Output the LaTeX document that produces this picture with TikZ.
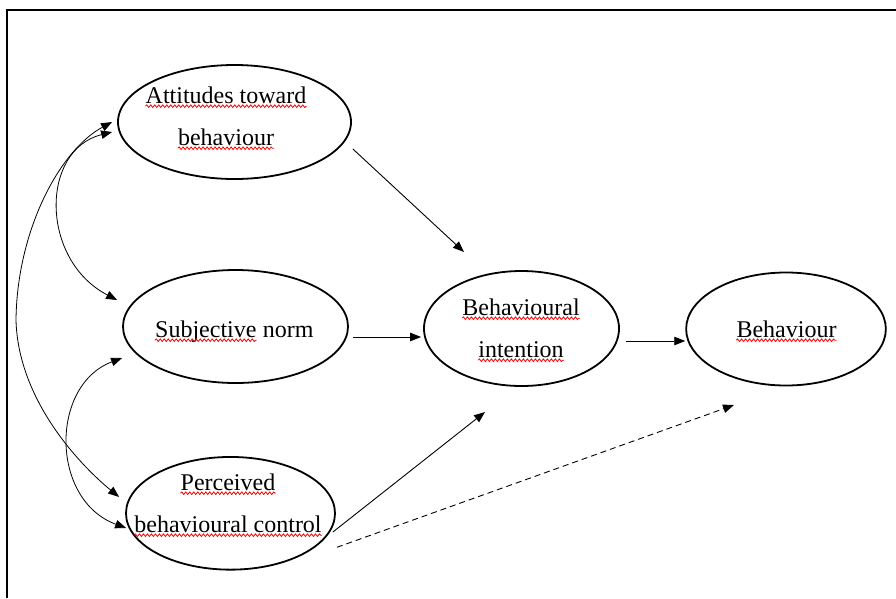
\documentclass[tikz,border=0pt]{standalone}
\usepackage{fontspec}
\setmainfont{Liberation Serif}
\usetikzlibrary{shapes.geometric,arrows.meta,calc,decorations.pathmorphing}
\begin{document}
\begin{tikzpicture}[x=1pt,y=-1pt,
  ell/.style={draw, ellipse, line width=1.8pt, inner sep=0pt},
  txt/.style={inner sep=0pt, anchor=base, font=\fontsize{24}{28}\selectfont},
  arr/.style={line width=0.9pt, -{Triangle[length=11pt,width=8.5pt]}},
  barr/.style={line width=0.8pt, {Triangle[length=11pt,width=8.5pt]}-{Triangle[length=11pt,width=8.5pt]}},
  wav/.style={draw=red, line width=0.8pt, decorate, decoration={snake, amplitude=1.3pt, segment length=4pt}}]
\useasboundingbox (0,0) rectangle (896,598);
\draw[line width=2pt] (6.5,598) -- (6.5,10) -- (896,10);

% ellipses
\node[ell, minimum width=233pt, minimum height=114pt] (att) at (234.5,122) {};
\node[ell, minimum width=225pt, minimum height=113pt] (sn) at (235.5,326.5) {};
\node[ell, minimum width=209pt, minimum height=112.7pt] (pbc) at (230.5,513.3) {};
\node[ell, minimum width=195pt, minimum height=115pt] (int) at (521.5,328.5) {};
\node[ell, minimum width=199.7pt, minimum height=113pt] (beh) at (786,329) {};

% texts
\node[txt] (t1) at (226,103) {Attitudes toward};
\node[txt] (t2) at (226,145) {behaviour};
\node[txt, anchor=base west] (sn1) at (155,337) {Subjective};
\node[txt, anchor=base west] (sn2) at ([xshift=6pt]sn1.base east) {norm};
\node[txt] (t4) at (228,490) {Perceived};
\node[txt] (t5) at (228,532) {behavioural control};
\node[txt] (t6) at (521,315) {Behavioural};
\node[txt] (t7) at (521,357) {intention};
\node[txt] (t8) at (786.5,337) {Behaviour};

% spell-check underlines
\foreach \n in {t1,t2,sn1,t4,t5,t6,t7,t8}{
  \draw[wav] ([yshift=-3.2pt]\n.base west) -- ([yshift=-3.2pt]\n.base east);
}

% straight connectors
\draw[arr] ($(att.east)+(1,27)$) -- ($(int.center)+(-57.5,-76.5)$);
\draw[arr] ($(sn.east)+(4,10.5)$) -- ($(int.west)+(-2,8.5)$);
\draw[arr] ($(pbc.east)+(-3,18.7)$) -- ($(int.center)+(-36.5,83.5)$);
\draw[arr] ($(int.east)+(6,12.5)$) -- ($(beh.west)+(0,12)$);
\draw[arr, dash pattern=on 6pt off 4pt] ($(pbc.east)+(1,34)$) -- ($(beh.center)+(-52,76)$);

% curved double-headed connectors
\coordinate (c1a) at ($(att.west)+(-5,10)$);
\coordinate (c1b) at ($(sn.west)+(-5,-26.5)$);
\coordinate (c2a) at ($(att.west)+(-5,0)$);
\coordinate (c2b) at ($(pbc.west)+(-6,-16.3)$);
\coordinate (c3a) at ($(sn.west)+(0,31.5)$);
\coordinate (c3b) at ($(pbc.west)+(1,14.7)$);
\draw[barr] (c1a) .. controls (40,150) and (40,260) .. (c1b);
\draw[barr] (c2a) .. controls (60,150) and (17,230) .. (16,320) .. controls (18,400) and (80,465) .. (c2b);
\draw[barr] (c3a) .. controls (50,385) and (50,500) .. (c3b);
\end{tikzpicture}
\end{document}
